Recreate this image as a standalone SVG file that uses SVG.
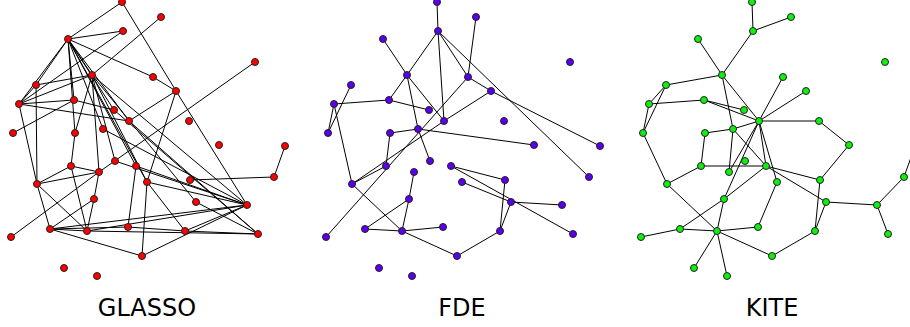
<svg xmlns="http://www.w3.org/2000/svg" width="910" height="327" viewBox="0 0 910 327">
<style>
.e line{stroke:#000;stroke-width:1}
circle{stroke:#222;stroke-width:1}
.g circle{fill:#f00}
.f circle{fill:#5a00ee}
.k circle{fill:#11ee11}
text{font-family:"DejaVu Sans",sans-serif;font-size:24px;fill:#000;text-anchor:middle}
</style>
<rect width="910" height="327" fill="#fff"/>
<g id="glasso-edges" class="e">
<line x1="122" y1="2" x2="68" y2="39"/><line x1="122" y1="2" x2="176" y2="91"/>
<line x1="68" y1="39" x2="123" y2="31"/><line x1="68" y1="39" x2="36" y2="85"/><line x1="68" y1="39" x2="19" y2="104"/>
<line x1="68" y1="39" x2="74" y2="100"/><line x1="68" y1="39" x2="75" y2="133"/><line x1="68" y1="39" x2="92" y2="75"/>
<line x1="68" y1="39" x2="114" y2="110"/><line x1="68" y1="39" x2="129" y2="121"/><line x1="68" y1="39" x2="103" y2="129"/>
<line x1="68" y1="39" x2="136" y2="166"/><line x1="68" y1="39" x2="147" y2="182"/><line x1="68" y1="39" x2="153" y2="77"/>
<line x1="123" y1="31" x2="19" y2="104"/><line x1="36" y1="85" x2="19" y2="104"/><line x1="36" y1="85" x2="37" y2="184"/>
<line x1="36" y1="85" x2="92" y2="75"/>
<line x1="92" y1="75" x2="19" y2="104"/><line x1="92" y1="75" x2="161" y2="17"/><line x1="92" y1="75" x2="115" y2="161"/>
<line x1="92" y1="75" x2="99" y2="172"/><line x1="92" y1="75" x2="75" y2="133"/><line x1="19" y1="104" x2="74" y2="100"/>
<line x1="92" y1="75" x2="247" y2="205"/><line x1="92" y1="75" x2="196" y2="202"/><line x1="92" y1="75" x2="147" y2="182"/>
<line x1="13" y1="133" x2="74" y2="100"/><line x1="19" y1="104" x2="37" y2="184"/><line x1="19" y1="104" x2="129" y2="121"/>
<line x1="74" y1="100" x2="114" y2="110"/><line x1="153" y1="77" x2="176" y2="91"/><line x1="176" y1="91" x2="147" y2="182"/>
<line x1="176" y1="91" x2="129" y2="121"/><line x1="114" y1="110" x2="258" y2="234"/><line x1="136" y1="166" x2="247" y2="205"/>
<line x1="176" y1="91" x2="247" y2="205"/><line x1="255" y1="62" x2="99" y2="172"/><line x1="37" y1="184" x2="71" y2="166"/>
<line x1="103" y1="129" x2="247" y2="205"/><line x1="115" y1="161" x2="247" y2="205"/><line x1="129" y1="121" x2="258" y2="234"/>
<line x1="37" y1="184" x2="99" y2="172"/><line x1="37" y1="184" x2="50" y2="229"/><line x1="37" y1="184" x2="87" y2="231"/>
<line x1="71" y1="166" x2="99" y2="172"/><line x1="71" y1="166" x2="87" y2="231"/><line x1="99" y1="172" x2="94" y2="199"/>
<line x1="75" y1="133" x2="71" y2="166"/><line x1="94" y1="199" x2="87" y2="231"/>
<line x1="94" y1="199" x2="50" y2="229"/><line x1="87" y1="231" x2="50" y2="229"/><line x1="50" y1="229" x2="128" y2="227"/>
<line x1="50" y1="229" x2="142" y2="256"/><line x1="11" y1="237" x2="99" y2="172"/><line x1="128" y1="227" x2="136" y2="166"/>
<line x1="142" y1="256" x2="147" y2="182"/><line x1="190" y1="180" x2="274" y2="177"/><line x1="274" y1="177" x2="285" y2="146"/>
<line x1="147" y1="182" x2="247" y2="205"/><line x1="147" y1="182" x2="185" y2="231"/><line x1="185" y1="231" x2="258" y2="234"/>
<line x1="185" y1="231" x2="247" y2="205"/><line x1="142" y1="256" x2="247" y2="205"/><line x1="196" y1="202" x2="258" y2="234"/>
<line x1="50" y1="229" x2="247" y2="205"/><line x1="87" y1="231" x2="258" y2="234"/>
<line x1="128" y1="227" x2="185" y2="231"/><line x1="87" y1="231" x2="247" y2="205"/>
</g>
<g id="fde-edges" class="e" transform="translate(315,0)">
<line x1="122" y1="2" x2="123" y2="31"/><line x1="123" y1="31" x2="92" y2="75"/><line x1="123" y1="31" x2="129" y2="121"/>
<line x1="123" y1="31" x2="153" y2="77"/><line x1="123" y1="31" x2="274" y2="177"/><line x1="68" y1="39" x2="92" y2="75"/>
<line x1="92" y1="75" x2="74" y2="100"/><line x1="92" y1="75" x2="129" y2="121"/><line x1="92" y1="75" x2="103" y2="129"/>
<line x1="36" y1="85" x2="13" y2="133"/><line x1="19" y1="104" x2="13" y2="133"/><line x1="19" y1="104" x2="37" y2="184"/>
<line x1="19" y1="104" x2="74" y2="100"/><line x1="74" y1="100" x2="114" y2="110"/><line x1="75" y1="133" x2="103" y2="129"/>
<line x1="75" y1="133" x2="71" y2="166"/><line x1="103" y1="129" x2="115" y2="161"/><line x1="103" y1="129" x2="219" y2="145"/>
<line x1="71" y1="166" x2="37" y2="184"/><line x1="37" y1="184" x2="129" y2="121"/><line x1="11" y1="237" x2="153" y2="77"/>
<line x1="99" y1="172" x2="94" y2="199"/><line x1="94" y1="199" x2="50" y2="229"/><line x1="94" y1="199" x2="87" y2="231"/>
<line x1="37" y1="184" x2="87" y2="231"/><line x1="50" y1="229" x2="87" y2="231"/><line x1="87" y1="231" x2="128" y2="227"/>
<line x1="87" y1="231" x2="142" y2="256"/><line x1="142" y1="256" x2="185" y2="231"/><line x1="185" y1="231" x2="190" y2="180"/>
<line x1="185" y1="231" x2="196" y2="202"/><line x1="196" y1="202" x2="247" y2="205"/><line x1="147" y1="182" x2="196" y2="202"/>
<line x1="136" y1="166" x2="258" y2="234"/><line x1="136" y1="166" x2="190" y2="180"/><line x1="153" y1="77" x2="161" y2="17"/>
<line x1="153" y1="77" x2="176" y2="91"/><line x1="176" y1="91" x2="129" y2="121"/>
<line x1="176" y1="91" x2="285" y2="146"/>
</g>
<g id="kite-edges" class="e" transform="translate(630,0)">
<line x1="122" y1="2" x2="123" y2="31"/><line x1="123" y1="31" x2="161" y2="17"/><line x1="123" y1="31" x2="92" y2="75"/>
<line x1="68" y1="39" x2="92" y2="75"/><line x1="92" y1="75" x2="36" y2="85"/><line x1="92" y1="75" x2="103" y2="129"/>
<line x1="92" y1="75" x2="129" y2="121"/><line x1="36" y1="85" x2="19" y2="104"/><line x1="36" y1="85" x2="13" y2="133"/>
<line x1="19" y1="104" x2="13" y2="133"/><line x1="19" y1="104" x2="74" y2="100"/><line x1="74" y1="100" x2="114" y2="110"/>
<line x1="74" y1="100" x2="129" y2="121"/><line x1="129" y1="121" x2="153" y2="77"/><line x1="129" y1="121" x2="176" y2="91"/>
<line x1="129" y1="121" x2="189" y2="121"/><line x1="129" y1="121" x2="99" y2="172"/><line x1="129" y1="121" x2="94" y2="199"/>
<line x1="129" y1="121" x2="136" y2="166"/><line x1="129" y1="121" x2="147" y2="182"/><line x1="75" y1="133" x2="103" y2="129"/>
<line x1="103" y1="129" x2="129" y2="121"/><line x1="103" y1="129" x2="99" y2="172"/><line x1="103" y1="129" x2="136" y2="166"/>
<line x1="13" y1="133" x2="37" y2="184"/><line x1="75" y1="133" x2="71" y2="166"/><line x1="71" y1="166" x2="37" y2="184"/>
<line x1="71" y1="166" x2="136" y2="166"/><line x1="37" y1="184" x2="87" y2="231"/><line x1="94" y1="199" x2="50" y2="229"/>
<line x1="94" y1="199" x2="87" y2="231"/><line x1="94" y1="199" x2="136" y2="166"/><line x1="50" y1="229" x2="87" y2="231"/>
<line x1="50" y1="229" x2="11" y2="237"/><line x1="87" y1="231" x2="128" y2="227"/><line x1="87" y1="231" x2="142" y2="256"/>
<line x1="87" y1="231" x2="64" y2="268"/><line x1="87" y1="231" x2="97" y2="276"/><line x1="128" y1="227" x2="147" y2="182"/>
<line x1="136" y1="166" x2="190" y2="180"/><line x1="136" y1="166" x2="196" y2="202"/><line x1="190" y1="180" x2="219" y2="145"/>
<line x1="189" y1="121" x2="219" y2="145"/><line x1="190" y1="180" x2="185" y2="231"/><line x1="196" y1="202" x2="185" y2="231"/>
<line x1="185" y1="231" x2="142" y2="256"/><line x1="196" y1="202" x2="247" y2="205"/><line x1="247" y1="205" x2="258" y2="234"/>
<line x1="247" y1="205" x2="274" y2="177"/><line x1="274" y1="177" x2="285" y2="146"/>
</g>
<g id="glasso-nodes" class="g">
<g id="g-A"><circle cx="122" cy="2" r="3.5"/></g><g id="g-B"><circle cx="123" cy="31" r="3.5"/></g><g id="g-C"><circle cx="68" cy="39" r="3.5"/></g>
<g id="g-D"><circle cx="92" cy="75" r="3.5"/></g><g id="g-E"><circle cx="36" cy="85" r="3.5"/></g><g id="g-F"><circle cx="19" cy="104" r="3.5"/></g>
<g id="g-G"><circle cx="74" cy="100" r="3.5"/></g><g id="g-H"><circle cx="114" cy="110" r="3.5"/></g><g id="g-I"><circle cx="129" cy="121" r="3.5"/></g>
<g id="g-J"><circle cx="13" cy="133" r="3.5"/></g><g id="g-K"><circle cx="75" cy="133" r="3.5"/></g><g id="g-L"><circle cx="103" cy="129" r="3.5"/></g>
<g id="g-M"><circle cx="153" cy="77" r="3.5"/></g><g id="g-N"><circle cx="161" cy="17" r="3.5"/></g><g id="g-O"><circle cx="255" cy="62" r="3.5"/></g>
<g id="g-P"><circle cx="176" cy="91" r="3.5"/></g><g id="g-Q"><circle cx="189" cy="121" r="3.5"/></g><g id="g-R"><circle cx="71" cy="166" r="3.5"/></g>
<g id="g-S"><circle cx="99" cy="172" r="3.5"/></g><g id="g-T"><circle cx="115" cy="161" r="3.5"/></g><g id="g-U"><circle cx="136" cy="166" r="3.5"/></g>
<g id="g-V"><circle cx="147" cy="182" r="3.5"/></g><g id="g-W"><circle cx="37" cy="184" r="3.5"/></g><g id="g-X"><circle cx="94" cy="199" r="3.5"/></g>
<g id="g-Y"><circle cx="50" cy="229" r="3.5"/></g><g id="g-Z"><circle cx="87" cy="231" r="3.5"/></g><g id="g-AA"><circle cx="128" cy="227" r="3.5"/></g>
<g id="g-AB"><circle cx="11" cy="237" r="3.5"/></g><g id="g-AC"><circle cx="142" cy="256" r="3.5"/></g><g id="g-AD"><circle cx="64" cy="268" r="3.5"/></g>
<g id="g-AE"><circle cx="97" cy="276" r="3.5"/></g><g id="g-AF"><circle cx="219" cy="145" r="3.5"/></g><g id="g-AG"><circle cx="285" cy="146" r="3.5"/></g>
<g id="g-AH"><circle cx="190" cy="180" r="3.5"/></g><g id="g-AI"><circle cx="274" cy="177" r="3.5"/></g><g id="g-AJ"><circle cx="196" cy="202" r="3.5"/></g>
<g id="g-AK"><circle cx="247" cy="205" r="3.5"/></g><g id="g-AL"><circle cx="185" cy="231" r="3.5"/></g><g id="g-AM"><circle cx="258" cy="234" r="3.5"/></g>
</g>
<g id="fde-nodes" class="f" transform="translate(315,0)">
<g id="f-A"><circle cx="122" cy="2" r="3.5"/></g><g id="f-B"><circle cx="123" cy="31" r="3.5"/></g><g id="f-C"><circle cx="68" cy="39" r="3.5"/></g>
<g id="f-D"><circle cx="92" cy="75" r="3.5"/></g><g id="f-E"><circle cx="36" cy="85" r="3.5"/></g><g id="f-F"><circle cx="19" cy="104" r="3.5"/></g>
<g id="f-G"><circle cx="74" cy="100" r="3.5"/></g><g id="f-H"><circle cx="114" cy="110" r="3.5"/></g><g id="f-I"><circle cx="129" cy="121" r="3.5"/></g>
<g id="f-J"><circle cx="13" cy="133" r="3.5"/></g><g id="f-K"><circle cx="75" cy="133" r="3.5"/></g><g id="f-L"><circle cx="103" cy="129" r="3.5"/></g>
<g id="f-M"><circle cx="153" cy="77" r="3.5"/></g><g id="f-N"><circle cx="161" cy="17" r="3.5"/></g><g id="f-O"><circle cx="255" cy="62" r="3.5"/></g>
<g id="f-P"><circle cx="176" cy="91" r="3.5"/></g><g id="f-Q"><circle cx="189" cy="121" r="3.5"/></g><g id="f-R"><circle cx="71" cy="166" r="3.5"/></g>
<g id="f-S"><circle cx="99" cy="172" r="3.5"/></g><g id="f-T"><circle cx="115" cy="161" r="3.5"/></g><g id="f-U"><circle cx="136" cy="166" r="3.5"/></g>
<g id="f-V"><circle cx="147" cy="182" r="3.5"/></g><g id="f-W"><circle cx="37" cy="184" r="3.5"/></g><g id="f-X"><circle cx="94" cy="199" r="3.5"/></g>
<g id="f-Y"><circle cx="50" cy="229" r="3.5"/></g><g id="f-Z"><circle cx="87" cy="231" r="3.5"/></g><g id="f-AA"><circle cx="128" cy="227" r="3.5"/></g>
<g id="f-AB"><circle cx="11" cy="237" r="3.5"/></g><g id="f-AC"><circle cx="142" cy="256" r="3.5"/></g><g id="f-AD"><circle cx="64" cy="268" r="3.5"/></g>
<g id="f-AE"><circle cx="97" cy="276" r="3.5"/></g><g id="f-AF"><circle cx="219" cy="145" r="3.5"/></g><g id="f-AG"><circle cx="285" cy="146" r="3.5"/></g>
<g id="f-AH"><circle cx="190" cy="180" r="3.5"/></g><g id="f-AI"><circle cx="274" cy="177" r="3.5"/></g><g id="f-AJ"><circle cx="196" cy="202" r="3.5"/></g>
<g id="f-AK"><circle cx="247" cy="205" r="3.5"/></g><g id="f-AL"><circle cx="185" cy="231" r="3.5"/></g><g id="f-AM"><circle cx="258" cy="234" r="3.5"/></g>
</g>
<g id="kite-nodes" class="k" transform="translate(630,0)">
<g id="k-A"><circle cx="122" cy="2" r="3.5"/></g><g id="k-B"><circle cx="123" cy="31" r="3.5"/></g><g id="k-C"><circle cx="68" cy="39" r="3.5"/></g>
<g id="k-D"><circle cx="92" cy="75" r="3.5"/></g><g id="k-E"><circle cx="36" cy="85" r="3.5"/></g><g id="k-F"><circle cx="19" cy="104" r="3.5"/></g>
<g id="k-G"><circle cx="74" cy="100" r="3.5"/></g><g id="k-H"><circle cx="114" cy="110" r="3.5"/></g><g id="k-I"><circle cx="129" cy="121" r="3.5"/></g>
<g id="k-J"><circle cx="13" cy="133" r="3.5"/></g><g id="k-K"><circle cx="75" cy="133" r="3.5"/></g><g id="k-L"><circle cx="103" cy="129" r="3.5"/></g>
<g id="k-M"><circle cx="153" cy="77" r="3.5"/></g><g id="k-N"><circle cx="161" cy="17" r="3.5"/></g><g id="k-O"><circle cx="255" cy="62" r="3.5"/></g>
<g id="k-P"><circle cx="176" cy="91" r="3.5"/></g><g id="k-Q"><circle cx="189" cy="121" r="3.5"/></g><g id="k-R"><circle cx="71" cy="166" r="3.5"/></g>
<g id="k-S"><circle cx="99" cy="172" r="3.5"/></g><g id="k-T"><circle cx="115" cy="161" r="3.5"/></g><g id="k-U"><circle cx="136" cy="166" r="3.5"/></g>
<g id="k-V"><circle cx="147" cy="182" r="3.5"/></g><g id="k-W"><circle cx="37" cy="184" r="3.5"/></g><g id="k-X"><circle cx="94" cy="199" r="3.5"/></g>
<g id="k-Y"><circle cx="50" cy="229" r="3.5"/></g><g id="k-Z"><circle cx="87" cy="231" r="3.5"/></g><g id="k-AA"><circle cx="128" cy="227" r="3.5"/></g>
<g id="k-AB"><circle cx="11" cy="237" r="3.5"/></g><g id="k-AC"><circle cx="142" cy="256" r="3.5"/></g><g id="k-AD"><circle cx="64" cy="268" r="3.5"/></g>
<g id="k-AE"><circle cx="97" cy="276" r="3.5"/></g><g id="k-AF"><circle cx="219" cy="145" r="3.5"/></g><g id="k-AG"><circle cx="285" cy="146" r="3.5"/></g>
<g id="k-AH"><circle cx="190" cy="180" r="3.5"/></g><g id="k-AI"><circle cx="274" cy="177" r="3.5"/></g><g id="k-AJ"><circle cx="196" cy="202" r="3.5"/></g>
<g id="k-AK"><circle cx="247" cy="205" r="3.5"/></g><g id="k-AL"><circle cx="185" cy="231" r="3.5"/></g><g id="k-AM"><circle cx="258" cy="234" r="3.5"/></g>
</g>
<text x="147" y="316">GLASSO</text>
<text x="462" y="316">FDE</text>
<text x="772" y="316">KITE</text>
</svg>
